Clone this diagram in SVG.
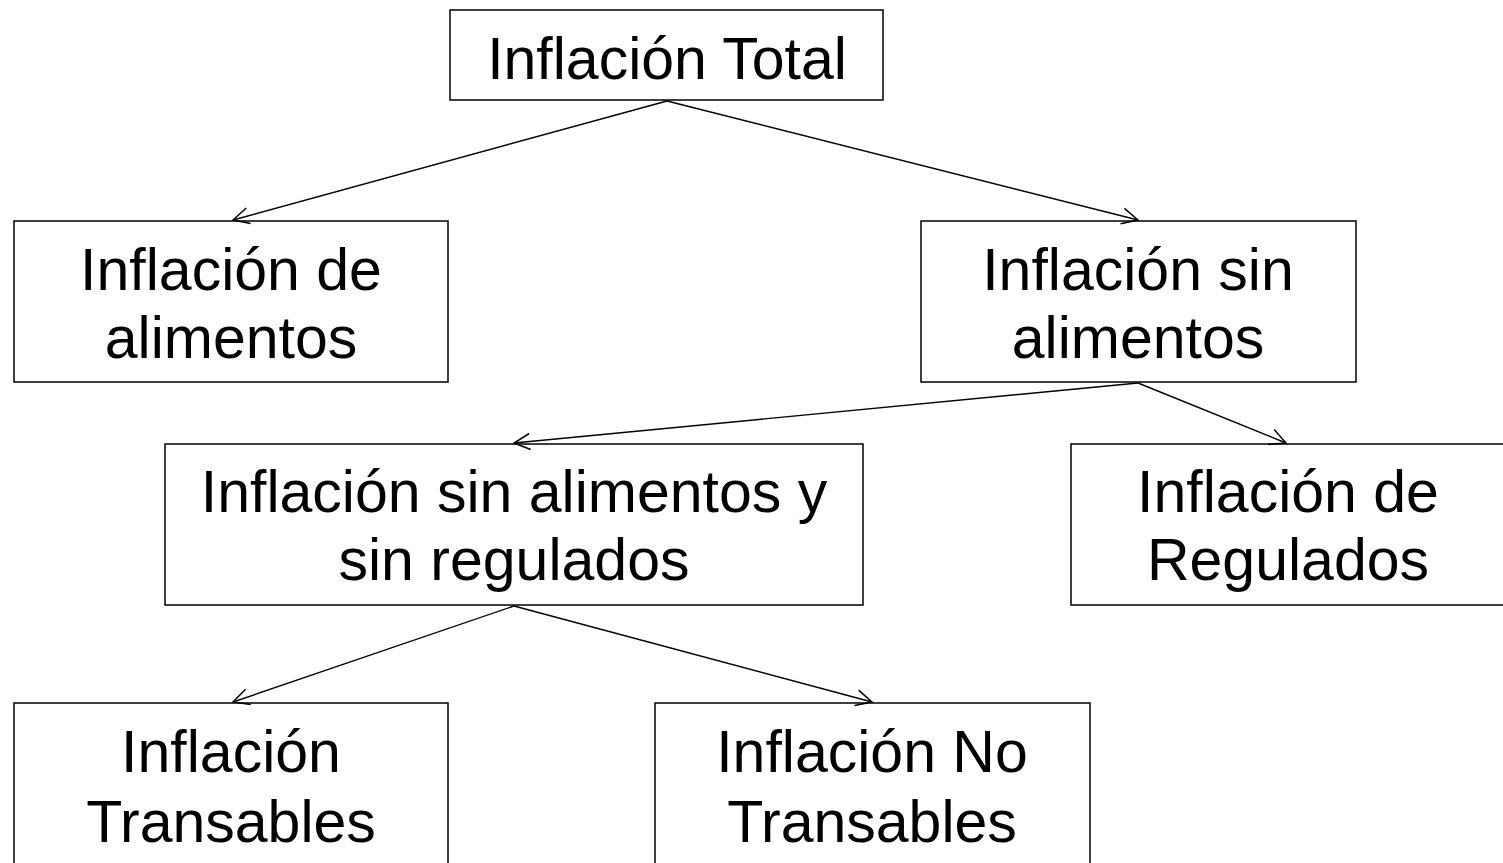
<svg xmlns="http://www.w3.org/2000/svg" width="1503" height="863" viewBox="0 0 1503 863">
<style>
.box{fill:#fff;stroke:#000;stroke-width:1.5}
.t{font-family:"Liberation Sans",Arial,sans-serif;font-size:59px;fill:#000;text-anchor:middle}
.c{stroke:#000;stroke-width:1.4;fill:none;marker-end:url(#a)}
</style>
<defs>
<marker id="a" markerWidth="24" markerHeight="24" refX="18" refY="10" orient="auto" markerUnits="userSpaceOnUse">
<path d="M2,2 L18,10 L2,18" fill="none" stroke="#000" stroke-width="1.5"/>
</marker>
</defs>
<rect width="1503" height="863" fill="#fff"/>
<g id="n1"><rect class="box" x="450" y="10" width="433" height="90"/><text class="t" x="667" y="79">Inflación Total</text></g>
<g id="n2"><rect class="box" x="14" y="221" width="434" height="161"/><text class="t" x="231" y="290">Inflación de</text><text class="t" x="231" y="358">alimentos</text></g>
<g id="n3"><rect class="box" x="921" y="221" width="435" height="161"/><text class="t" x="1138" y="290">Inflación sin</text><text class="t" x="1138" y="358">alimentos</text></g>
<g id="n4"><rect class="box" x="165" y="444" width="698" height="161"/><text class="t" x="514" y="512">Inflación sin alimentos y</text><text class="t" x="514" y="580">sin regulados</text></g>
<g id="n5"><rect class="box" x="1071" y="444" width="440" height="161"/><text class="t" x="1288" y="512">Inflación de</text><text class="t" x="1288" y="580">Regulados</text></g>
<g id="n6"><rect class="box" x="14" y="703" width="434" height="180"/><text class="t" x="231" y="772">Inflación</text><text class="t" x="231" y="842">Transables</text></g>
<g id="n7"><rect class="box" x="655" y="703" width="435" height="180"/><text class="t" x="872" y="772">Inflación No</text><text class="t" x="872" y="842">Transables</text></g>
<g id="connectors">
<line class="c" x1="667" y1="101" x2="233" y2="220"/>
<line class="c" x1="667" y1="101" x2="1138" y2="220"/>
<line class="c" x1="1138" y1="383" x2="514" y2="443"/>
<line class="c" x1="1138" y1="383" x2="1286" y2="443"/>
<line class="c" x1="514" y1="606" x2="233" y2="702"/>
<line class="c" x1="514" y1="606" x2="872" y2="702"/>
</g>
</svg>
